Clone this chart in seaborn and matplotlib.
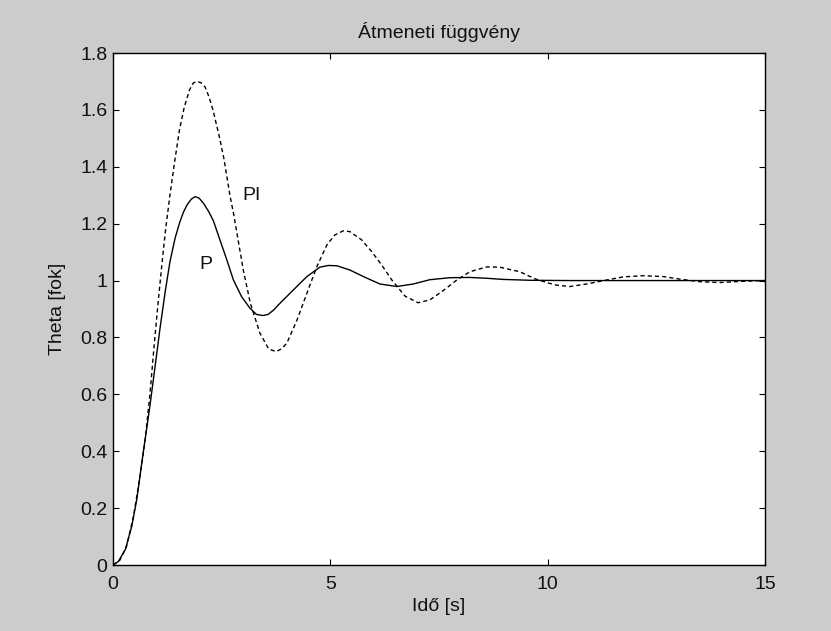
import matplotlib
matplotlib.use("Agg")
import matplotlib.pyplot as plt
import seaborn as sns
import pandas as pd

# Step responses of the closed loop with P and PI controllers
t_p = [0, 0.12, 0.28, 0.43, 0.545, 0.70, 0.85, 0.97, 1.08, 1.20, 1.31, 1.43,
       1.54, 1.62, 1.70, 1.80, 1.89, 1.98, 2.08, 2.20, 2.31, 2.46, 2.62, 2.77,
       2.96, 3.15, 3.30, 3.45, 3.57, 3.70, 3.84, 4.15, 4.46, 4.76, 4.95, 5.15,
       5.45, 5.76, 6.14, 6.53, 6.91, 7.29, 7.75, 8.20, 8.60, 8.98, 9.59, 10.5,
       11.5, 12.5, 13.5, 15.0]
theta_p = [0, 0.012, 0.053, 0.135, 0.229, 0.40, 0.56, 0.70, 0.83, 0.96, 1.066,
           1.150, 1.207, 1.240, 1.265, 1.286, 1.295, 1.290, 1.272, 1.243, 1.210,
           1.143, 1.072, 1.002, 0.943, 0.903, 0.881, 0.877, 0.881, 0.897, 0.920,
           0.967, 1.014, 1.047, 1.053, 1.052, 1.037, 1.014, 0.988, 0.979, 0.988,
           1.003, 1.010, 1.011, 1.008, 1.004, 1.001, 1.0, 1.0, 1.0, 1.0, 1.0]

t_pi = [0, 0.15, 0.31, 0.47, 0.62, 0.74, 0.85, 0.94, 1.03, 1.12, 1.21, 1.31,
        1.42, 1.53, 1.64, 1.76, 1.85, 1.94, 2.03, 2.12, 2.21, 2.30, 2.44, 2.55,
        2.69, 2.78, 2.87, 3.00, 3.16, 3.38, 3.58, 3.75, 3.88, 4.00, 4.23, 4.46,
        4.69, 4.92, 5.10, 5.30, 5.45, 5.72, 5.95, 6.18, 6.41, 6.72, 7.02, 7.29,
        7.60, 7.91, 8.21, 8.60, 8.90, 9.36, 9.71, 10.0, 10.2, 10.51, 10.9,
        11.36, 11.74, 12.2, 12.66, 13.04, 13.5, 13.96, 14.42, 15.0]
theta_pi = [0, 0.015, 0.064, 0.17, 0.31, 0.44, 0.60, 0.76, 0.91, 1.05, 1.18,
            1.30, 1.42, 1.53, 1.61, 1.67, 1.695, 1.70, 1.695, 1.68, 1.645, 1.60,
            1.51, 1.43, 1.30, 1.23, 1.15, 1.035, 0.92, 0.815, 0.76, 0.75, 0.76,
            0.78, 0.86, 0.955, 1.049, 1.125, 1.16, 1.175, 1.172, 1.143, 1.102,
            1.055, 1.003, 0.945, 0.922, 0.932, 0.965, 1.002, 1.031, 1.048, 1.047,
            1.031, 1.006, 0.992, 0.984, 0.979, 0.988, 1.002, 1.013, 1.017, 1.014,
            1.005, 0.996, 0.993, 0.997, 1.0]

x_ticks = [0, 5, 10, 15]
y_ticks = [0, 0.2, 0.4, 0.6, 0.8, 1.0, 1.2, 1.4, 1.6, 1.8]
y_tick_labels = ["0", "0.2", "0.4", "0.6", "0.8", "1", "1.2", "1.4", "1.6", "1.8"]

df_p = pd.DataFrame({"t": t_p, "theta": theta_p})
df_pi = pd.DataFrame({"t": t_pi, "theta": theta_pi})

sns.set_style("ticks")
plt.rcParams["font.family"] = ["Liberation Sans", "DejaVu Sans"]
plt.rcParams["lines.scale_dashes"] = False

FS = 14
TXT = "#111111"

fig = plt.figure(figsize=(8.31, 6.31), dpi=100, facecolor="#cccccc")
ax = fig.add_axes([113 / 831, 66 / 631, 652 / 831, 512 / 631])
ax.set_facecolor("white")

sns.lineplot(data=df_pi, x="t", y="theta", ax=ax, color="black", linewidth=1.0,
             dashes=False, estimator=None, sort=False)
sns.lineplot(data=df_p, x="t", y="theta", ax=ax, color="black", linewidth=1.0,
             dashes=False, estimator=None, sort=False)
ax.lines[0].set_dashes((3.0, 2.2))

ax.set_xlim(0, 15)
ax.set_ylim(0, 1.8)
ax.set_xticks(x_ticks)
ax.set_xticklabels([str(v) for v in x_ticks])
ax.set_yticks(y_ticks)
ax.set_yticklabels(y_tick_labels)

for side in ["top", "right", "left", "bottom"]:
    ax.spines[side].set_visible(True)
    ax.spines[side].set_color("black")
    ax.spines[side].set_linewidth(1.0)

ax.tick_params(direction="in", length=4.5, width=0.8, color="black",
               top=True, right=True, labelsize=FS, labelcolor=TXT)
ax.tick_params(axis="y", pad=4)
ax.tick_params(axis="x", pad=8)

ax.set_title("Átmeneti függvény", fontsize=FS, color=TXT, pad=10.5)
ax.set_xlabel("Idő [s]", fontsize=FS, color=TXT, labelpad=3.5)
ax.set_ylabel("Theta [fok]", fontsize=FS, color=TXT, labelpad=10)

ax.text(3.19, 1.30, "PI", fontsize=FS, ha="center", va="center", color=TXT)
ax.text(2.14, 1.057, "P", fontsize=FS, ha="center", va="center", color=TXT)

fig.savefig("out.png", dpi=100, facecolor=fig.get_facecolor())
